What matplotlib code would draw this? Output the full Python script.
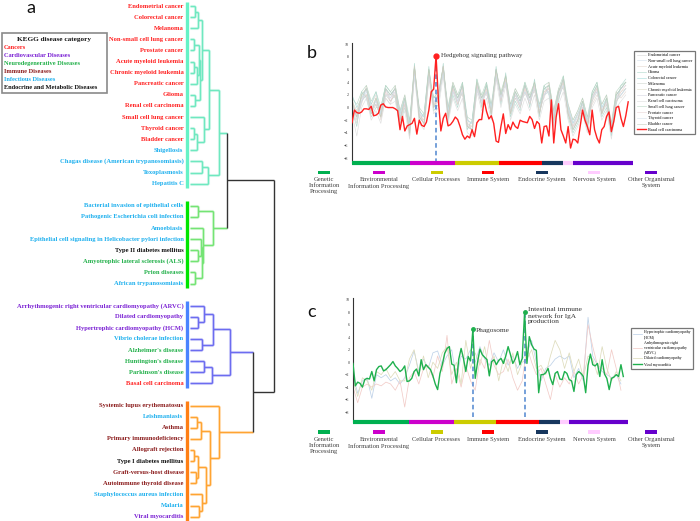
import numpy as np
import matplotlib
matplotlib.use('Agg')
from matplotlib import pyplot as plt
from matplotlib.patches import Rectangle

plt.rcParams['font.family'] = ['Liberation Serif', 'DejaVu Serif']

# ---------------- panel a: KEGG disease clustering ----------------
diseases = [
    'Endometrial cancer', 'Colorectal cancer', 'Melanoma', 'Non-small cell lung cancer',
    'Prostate cancer', 'Acute myeloid leukemia', 'Chronic myeloid leukemia', 'Pancreatic cancer',
    'Glioma', 'Renal cell carcinoma', 'Small cell lung cancer', 'Thyroid cancer', 'Bladder cancer',
    'Shigellosis', 'Chagas disease (American trypanosomiasis)', 'Toxoplasmosis', 'Hepatitis C',
    'Bacterial invasion of epithelial cells', 'Pathogenic Escherichia coli infection', 'Amoebiasis',
    'Epithelial cell signaling in Helicobacter pylori infection', 'Type II diabetes mellitus',
    'Amyotrophic lateral sclerosis (ALS)', 'Prion diseases', 'African trypanosomiasis',
    'Arrhythmogenic right ventricular cardiomyopathy (ARVC)', 'Dilated cardiomyopathy',
    'Hypertrophic cardiomyopathy (HCM)', 'Vibrio cholerae infection', "Alzheimer's disease",
    "Huntington's disease", "Parkinson's disease", 'Basal cell carcinoma',
    'Systemic lupus erythematosus', 'Leishmaniasis', 'Asthma', 'Primary immunodeficiency',
    'Allograft rejection', 'Type I diabetes mellitus', 'Graft-versus-host disease',
    'Autoimmune thyroid disease', 'Staphylococcus aureus infection', 'Malaria', 'Viral myocarditis',
]
disease_cat = (['C'] * 13 + ['I'] * 4
               + ['I', 'I', 'I', 'I', 'E', 'N', 'N', 'I']
               + ['V', 'V', 'V', 'I', 'N', 'N', 'N', 'C']
               + ['M', 'I', 'M', 'M', 'M', 'E', 'M', 'M', 'I', 'I', 'V'])
cat_keys = ['C', 'V', 'N', 'M', 'I', 'E']
cat_names = ['Cancers', 'Cardiovascular Diseases', 'Neurodegenerative Diseases',
             'Immune Diseases', 'Infectious Diseases', 'Endocrine and Metabolic Diseases']
cat_colors = ['#ff2222', '#7b22d4', '#22b04a', '#8b1c1c', '#1eb0ee', '#111111']

cluster_sizes = [17, 8, 8, 11]
cluster_bar_colors = ['#66f2c6', '#00e600', '#4a84ff', '#ff7f14']
cluster_line_colors = ['#6fe8c0', '#74e474', '#6c6cf0', '#ffa432']

# merge tree: (left, right, height)
tree = (
    ((((((0, 1, 5.0), 2, 7.7),
         ((((3, 4, 4.0), ((5, 6, 4.5), 7, 7.0), 9.0), (8, 9, 5.0), 10.5)), 11.7),
        (10, ((11, 12, 4.0), 13, 7.5), 14.3), 19.0),
       ((14, 15, 12.3), 16, 17.7), 29.0),
      ((17, 18, 8.3), (19, ((20, (21, 22, 8.3), 11.0), (23, 24, 5.0), 12.0), 13.3), 23.3),
      37.3),
    ((((25, (26, 27, 7.7), 14.3), (28, 29, 12.3), 22.7), ((30, 31, 14.3), 32, 22.3), 40.0),
     (33, (((34, 35, 6.7), 36, 11.0),
           (((37, 38, 4.5), (39, 40, 6.0), 8.0), (41, (42, 43, 9.0), 12.3), 15.7), 20.0), 29.3),
     63.3),
    84.3)

# ---------------- panels b, c: pathway profiles ----------------
path_groups = ['Genetic\nInformation\nProcessing', 'Environmental\nInformation Processing',
               'Cellular Processes', 'Immune System', 'Endocrine System', 'Nervous System',
               'Other Organismal\nSystem']
path_counts = [24, 19, 18, 18, 9, 4, 25]
path_colors = ['#00b050', '#cc00cc', '#cccc00', '#ff0000', '#17375e', '#ffccff', '#6600cc']

basal_cell = [
    -2.4, -0.4, -0.8, -0.9, -0.7, -0.2, -0.2, -0.3, 0.2, -1.3,
    -1.2, -0.9, 0.4, 0.6, 0.1, 0.0, 0.0, 0.0, -0.2, -0.5,
    -3.5, -1.4, -3.7, -2.9, -2.7, -2.5, -1.7, -4.2, -2.0, -2.8,
    -3.0, -2.3, -0.4, 2.5, 2.9, 8.2, 1.0, -3.7, -1.7, -0.9,
    -2.9, -2.7, -2.2, -1.5, -1.9, -3.0, -4.3, -5.0, -4.5, -4.8,
    -3.5, -4.6, -2.4, -1.9, -1.9, 1.2, -0.6, -1.8, -1.3, -2.5,
    -5.3, -5.5, -3.0, -1.0, -4.1, -2.7, -3.5, -2.3, -3.0, -3.3,
    -2.0, -2.2, -2.3, -2.4, -1.4, -1.9, -3.3, -2.2, -2.6, -5.6,
    -3.0, -2.9, -4.5, 1.2, -5.6, -1.5, 0.6, -3.5, -4.5, -5.6,
    -3.0, -6.4, -5.0, -5.1, -5.6, -3.0, -0.4, -2.0, -3.0, -4.3,
    -0.4, -3.5, -4.8, -5.6, -3.5, -3.0, -1.4, -0.7, -3.8, -2.2,
    0.0, 0.2, -1.7, -3.0, -1.3, 0.9]

# the 13 cancers of the first cluster (every second pathway)
cancer_names = ['Endometrial cancer', 'Non-small cell lung cancer', 'Acute myeloid leukemia',
                'Glioma', 'Colorectal cancer', 'Melanoma', 'Chronic myeloid leukemia',
                'Pancreatic cancer', 'Renal cell carcinoma', 'Small cell lung cancer',
                'Prostate cancer', 'Thyroid cancer', 'Bladder cancer']
endometrial = [1.0, -2.0, 2.0, 3.0, 0.0, 0.5, -1.5, 3.0, 1.0, 2.0, -2.0, 0.5, -4.0, 6.5, -1.5, -2.5, 5.0, 1.0, 1.0, 6.5,
               -1.5, 3.5, 0.5, 2.5, -3.0, -3.5, 4.0, 1.5, 2.5, -1.0, 6.0, 1.0, 5.0, 0.0, 2.5, 0.0, 3.5, 1.5, 3.0, -1.0,
               2.0, 3.5, -2.0, 2.5, 4.5, 0.0, -3.5, -2.0, 1.0, -3.0, 1.0, 3.5, -1.0, 1.5, -4.0, 2.0, 3.0, 4.0]
nsclc = [0.0, -0.5, 1.0, 2.0, -1.0, 1.5, -0.5, 2.0, 2.0, 3.0, -1.0, 1.5, -3.0, 5.5, -0.5, -1.5, 6.0, 0.0, 2.0, 5.5,
         -0.5, 2.5, 1.5, 3.5, -2.0, -2.5, 3.0, 0.5, 3.5, 0.0, 5.0, 2.0, 4.0, -1.0, 1.5, 1.0, 2.5, 0.5, 4.0, 0.0,
         3.0, 2.5, -1.0, 1.5, 3.5, -1.0, -2.5, -1.0, 0.0, -2.0, 2.0, 2.5, 0.0, 0.5, -3.0, 1.0, 2.0, 3.0]
aml = [1.5, -1.5, 0.5, 3.5, 0.5, 2.0, -2.0, 1.5, 0.5, 3.5, -0.5, 2.0, -4.5, 5.0, 0.0, -3.0, 4.5, 1.5, 2.5, 5.0,
       0.0, 4.0, 2.0, 2.0, -1.5, -4.0, 2.5, 2.0, 2.0, 0.5, 4.5, 2.5, 3.5, 0.5, 3.0, 1.5, 2.0, 2.0, 2.5, 0.5,
       1.5, 4.0, -0.5, 3.0, 3.0, 0.5, -2.0, -0.5, 1.5, -1.5, 0.5, 2.0, 0.5, 2.0, -2.5, 2.5, 1.5, 2.5]
glioma = [-0.5, -3.0, 2.5, 1.5, -1.5, 0.0, 0.0, 3.5, 2.5, 1.5, -2.5, 0.0, -3.0, 7.0, -2.0, -1.0, 6.5, -0.5, 0.5, 7.0,
          -2.0, 2.0, 0.0, 4.0, -3.5, -2.0, 4.5, 0.0, 4.0, -1.5, 6.5, 0.5, 5.5, -1.5, 1.0, -0.5, 4.0, 0.0, 4.5, -1.5,
          3.5, 2.0, -2.5, 1.0, 5.0, -1.5, -4.0, -2.5, -0.5, -3.5, 2.5, 4.0, -1.5, 0.0, -4.5, 0.5, 3.5, 4.5]
colorectal = [2.0, 0.0, 1.5, 3.0, 0.5, 2.5, -1.0, 3.0, 2.0, 3.0, -1.0, 1.5, -2.5, 5.5, -0.5, -1.5, 5.0, 1.5, 2.0, 5.5,
              -0.5, 3.5, 1.5, 3.5, -2.0, -2.5, 3.5, 1.5, 3.5, 0.0, 5.0, 2.0, 4.0, 0.0, 2.5, 1.0, 3.5, 1.5, 3.5, 0.0,
              3.0, 3.5, -1.0, 2.5, 4.0, 0.0, -2.5, -1.0, 1.0, -2.0, 2.0, 3.5, 0.0, 1.5, -3.0, 2.0, 3.0, 4.0]
melanoma = [0.0, -2.5, 1.0, 2.0, -1.0, 0.5, -1.5, 2.0, 1.0, 2.0, -2.0, 0.5, -4.5, 6.5, -1.5, -2.5, 6.0, 0.0, 1.0, 6.5,
            -1.5, 2.5, 0.5, 2.5, -3.0, -3.5, 3.0, 0.5, 2.5, -1.0, 6.0, 1.0, 4.5, -1.0, 1.5, 0.0, 2.5, 0.5, 3.0, -1.0,
            2.0, 2.5, -2.0, 1.5, 3.5, -1.0, -3.5, -2.0, 0.0, -3.0, 1.0, 2.5, -1.0, 0.5, -4.0, 1.0, 2.0, 3.0]
cml = [1.0, -0.5, 2.0, 2.0, 0.0, 1.5, -0.5, 2.0, 2.0, 2.0, -1.5, 1.0, -3.0, 6.5, -1.0, -2.0, 5.0, 0.5, 1.0, 6.0,
       -1.0, 3.0, 1.0, 2.5, -2.5, -3.0, 3.5, 1.0, 3.0, -0.5, 5.0, 1.5, 4.5, -0.5, 2.0, 0.5, 3.0, 1.0, 3.0, -0.5,
       2.5, 3.0, -1.5, 2.0, 4.0, -0.5, -3.0, -1.0, 0.5, -2.5, 1.5, 3.0, -0.5, 1.0, -3.5, 1.5, 2.5, 3.0]
pancreatic = [0.5, -1.5, 1.0, 3.0, -0.5, 1.0, -1.0, 3.0, 1.5, 3.0, -1.5, 1.0, -3.5, 5.5, -1.0, -2.5, 5.5, 0.5, 2.0, 6.5,
              -1.0, 3.0, 1.0, 3.5, -2.5, -3.5, 3.5, 1.0, 2.5, -0.5, 6.0, 1.5, 4.0, -0.5, 2.0, 0.5, 3.5, 1.0, 3.5, -0.5,
              2.0, 3.0, -1.5, 2.5, 4.5, -0.5, -3.0, -1.5, 0.5, -2.5, 1.5, 3.0, -0.5, 1.0, -3.5, 1.5, 3.0, 3.5]
renal = [-1.0, -4.5, 0.0, 1.5, -2.0, -0.5, -2.5, 1.5, 0.5, 1.0, -3.0, -0.5, -5.0, 5.0, -2.5, -3.5, 4.5, -1.0, 0.0, 5.0,
         -2.5, 1.5, -0.5, 1.5, -4.0, -4.5, 2.5, -0.5, 1.5, -2.0, 4.5, 0.0, 3.5, -2.0, 0.5, -1.0, 1.5, -0.5, 2.0, -2.0,
         1.0, 1.5, -3.0, 0.5, 2.5, -2.0, -4.5, -3.0, -1.0, -4.0, 0.0, 1.5, -2.0, -0.5, -5.0, 0.0, 1.0, 2.0]
small_cell = [1.5, 0.5, 2.5, 3.5, 1.0, 2.5, 0.0, 3.5, 2.5, 3.5, -0.5, 2.0, -2.0, 6.5, 0.0, -1.0, 6.0, 1.5, 2.5, 6.5,
              0.0, 4.0, 2.0, 4.0, -1.5, -2.0, 4.5, 2.0, 4.0, 0.5, 6.0, 2.5, 5.0, 0.5, 3.0, 1.5, 4.0, 2.0, 4.0, 0.5,
              3.5, 4.0, -0.5, 3.0, 5.0, 0.5, -2.0, -0.5, 1.5, -1.5, 2.5, 4.0, 0.5, 2.0, -2.5, 2.5, 3.5, 4.0]
prostate = [0.5, -1.0, 1.5, 2.0, -0.5, 0.5, -1.5, 2.5, 1.0, 2.5, -2.0, 0.5, -3.5, 6.5, -1.5, -2.0, 5.5, 0.0, 1.5, 6.5,
            -1.5, 3.0, 0.5, 3.0, -3.0, -3.0, 3.5, 0.5, 3.0, -1.0, 5.5, 1.0, 4.5, -1.0, 2.0, 0.0, 3.0, 0.5, 3.5, -1.0,
            2.5, 3.0, -2.0, 2.0, 4.0, -1.0, -3.0, -2.0, 0.0, -2.5, 1.5, 3.0, -1.0, 1.0, -4.0, 1.0, 2.5, 3.5]
thyroid = [0.0, -1.0, 1.0, 2.5, 0.0, 1.0, -1.0, 2.0, 1.5, 2.5, -1.0, 1.0, -3.0, 5.0, -1.0, -1.5, 5.0, 1.0, 1.5, 5.5,
           -0.5, 2.5, 1.0, 2.5, -2.0, -2.5, 3.0, 1.0, 2.5, 0.0, 5.0, 1.5, 4.0, 0.0, 2.0, 0.5, 2.5, 1.0, 3.0, 0.0,
           2.0, 2.5, -1.0, 2.0, 3.5, 0.0, -2.5, -1.0, 0.5, -2.0, 1.5, 2.5, 0.0, 1.0, -3.0, 1.5, 2.0, 3.0]
bladder = [1.0, -1.5, 2.0, 3.0, -1.0, 1.5, -1.5, 3.0, 2.0, 3.0, -2.0, 1.5, -4.0, 6.5, -1.5, -2.5, 6.0, 0.0, 2.0, 6.5,
           -1.5, 3.5, 1.5, 3.5, -3.0, -3.5, 4.0, 1.5, 3.5, -1.0, 6.0, 2.0, 5.0, -1.0, 2.5, 1.0, 3.5, 1.5, 4.0, -1.0,
           3.0, 3.5, -2.0, 2.5, 4.5, -1.0, -3.5, -2.0, 1.0, -3.0, 2.0, 3.5, -1.0, 1.5, -4.0, 2.0, 3.0, 4.0]
cancer_series = [endometrial, nsclc, aml, glioma, colorectal, melanoma, cml, pancreatic,
                 renal, small_cell, prostate, thyroid, bladder]
cancer_colors = ['#d4d4d4', '#d0dde9', '#e2d4cc', '#a8d4c8', '#9fd8d6', '#ccd2cc', '#ddd8c4',
                 '#d2d2e0', '#dadada', '#b4d4c0', '#e8d2d2', '#d2e0ec', '#c0ccb8']

viral_myocarditis = [
    -0.2, -3.8, -3.2, -3.4, -4.0, -2.8, -2.6, -2.7, -1.5, -3.0,
    -1.2, -0.7, -0.6, -1.4, -1.2, -0.8, -0.4, 0.1, -0.6, -1.0,
    -1.5, -1.2, -0.6, -3.1, -3.0, -2.6, -1.5, -1.1, -2.2, 0.4,
    -1.2, -0.4, -0.8, -1.2, -2.2, -3.5, -4.4, -1.8, -0.4, 1.4,
    2.2, 2.5, -0.3, -0.5, -3.3, 0.5, 2.2, 0.6, -1.5, 0.9,
    0.2, 5.3, -2.6, 0.0, 2.1, 1.2, 0.8, 0.4, -2.2, 0.1,
    0.4, -0.4, 0.3, 0.6, -0.2, 1.0, 2.5, 1.2, -0.2, 0.5,
    1.7, -0.4, 0.6, 8.0, -0.2, 4.1, 2.8, 2.1, 1.9, -4.9,
    -2.0, -2.0, -1.7, -1.0, -2.6, -3.6, -1.8, -1.5, -2.7, -2.8,
    -1.5, -1.8, -2.8, -3.0, -4.7, -2.0, -1.5, -1.8, -2.3, -4.9,
    -0.5, 1.3, -0.4, -0.6, -0.2, -2.3, 0.4, -1.9, -2.6, -4.4,
    -2.6, -2.4, -2.0, -2.3, -0.4, -2.3]
hcm = [-2.0, -5.0, -3.0, -2.5, -5.8, -2.0, -2.5, -2.0, -3.0, -2.5, -3.5, -2.5, -0.5, 1.8, -1.5, 0.5, -1.0, 1.5, 1.8, -0.5,
       1.0, 2.0, -2.5, 1.0, 0.5, 2.0, 0.0, 2.5, 0.5, -0.5, 1.5, 0.0, 2.0, -0.5, 1.0, -1.0, 0.5, 1.5, 3.5, 0.0,
       -3.0, -1.0, -0.5, 0.5, 1.0, 0.5, 1.0, -2.5, -1.0, -3.0, 7.2, 1.0, -0.5, -1.5, -2.0, -2.5, -2.0, -3.5]
arvc = [-4.0, -6.5, -4.0, -3.5, -4.0, -3.5, -3.8, -3.2, -3.5, -4.5, -3.0, -7.2, -2.5, -1.5, -3.5, -1.0, -0.5, -2.5, 1.0, -1.5,
        4.3, -3.5, -1.0, -4.0, -0.5, -3.0, -4.5, 0.5, -1.0, 3.5, -0.5, -2.0, -1.5, 0.5, -2.5, -4.5, -3.0, 2.5, 0.0, -2.0,
        -1.0, -3.5, -6.0, -2.0, -4.0, -2.5, -3.5, -1.5, -3.5, -2.0, 6.0, 2.5, -0.5, -1.0, -2.0, 2.0, -1.0, -4.5]
dilated = [-3.0, -5.5, -2.5, -3.0, -4.5, -1.5, -2.0, -1.0, -2.5, -1.5, -3.0, -3.0, 0.5, 2.0, -2.0, 1.0, -2.5, 0.0, -1.0, 1.5,
           2.5, -2.0, 0.0, -3.5, 3.5, -1.0, 1.5, -0.5, 2.5, -1.5, 1.0, -3.0, 0.5, -1.5, 1.5, -2.0, 0.0, 0.5, 2.0, -1.0,
           -0.5, -2.0, 1.0, 3.5, 2.0, -1.0, 1.5, -1.5, 0.5, -2.5, 1.0, 0.5, -2.0, 2.5, -1.0, -3.0, -1.5, -3.0]
cardio_names = ['Hypertrophic cardiomyopathy\n(HCM)',
                'Arrhythmogenic right\nventricular cardiomyopathy\n(ARVC)',
                'Dilated cardiomyopathy']
cardio_series = [hcm, arvc, dilated]
cardio_colors = ['#bfd2e8', '#f2ccc8', '#dedcbc']

# ---------------- figure ----------------
W, H = 700, 521
fig = plt.figure(figsize=(7, 5.21), dpi=100, facecolor='white')

# pixel overlay for panel letters, legends and keys
ov = fig.add_axes([0, 0, 1, 1])
ov.set_xlim(0, W)
ov.set_ylim(H, 0)
ov.axis('off')

# --- dendrogram ---
leaf_group = np.repeat(np.arange(4), cluster_sizes)
leaf_slot = np.arange(len(diseases)) + leaf_group
dax = fig.add_axes([190 / W, 0, 90 / W, 1])
dax.set_xlim(0, 90)
dax.set_ylim((H - 6) / 11.1, -6 / 11.1)
dax.axis('off')


def seg(xs, ys, g):
    if g is None:
        dax.plot(xs, ys, color='#333333', lw=1.0, solid_capstyle='butt', zorder=3)
    else:
        dax.plot(xs, ys, color=cluster_line_colors[g], lw=2.2, alpha=0.3,
                 solid_capstyle='butt', zorder=2)
        dax.plot(xs, ys, color=cluster_line_colors[g], lw=0.9, solid_capstyle='butt', zorder=3)


def draw(node):
    if isinstance(node, int):
        return leaf_slot[node], 0.0, leaf_group[node]
    left, right, h = node
    kids = [draw(left), draw(right)]
    g = kids[0][2] if kids[0][2] == kids[1][2] else None
    for y, hc, gc in kids:
        seg([hc, h], [y, y], gc)
    seg([h, h], [kids[0][0], kids[1][0]], g)
    return (kids[0][0] + kids[1][0]) / 2, h, g


draw(tree)

start = 0
for n, col in zip(cluster_sizes, cluster_bar_colors):
    s0 = leaf_slot[start]
    dax.plot([-2.5, -2.5], [s0 - 0.4, s0 + n - 1 + 0.4], color=col, lw=2.4,
             solid_capstyle='butt', clip_on=False)
    start += n

for name, cat, slot in zip(diseases, disease_cat, leaf_slot):
    dax.text(-6.5, slot, name, ha='right', va='center', fontsize=4.7, fontweight='bold',
             color=cat_colors[cat_keys.index(cat)], clip_on=False)

# legend box of panel a
ov.add_patch(Rectangle((1.5, 33), 105, 60, facecolor='white', edgecolor='#8a8a8a', lw=1.2))
ov.text(54, 40, 'KEGG disease category', ha='center', va='center', fontsize=5.2,
        fontweight='bold', color='#111111')
for k, (nm, col) in enumerate(zip(cat_names, cat_colors)):
    ov.text(4, 47.7 + 8 * k, nm, ha='left', va='center', fontsize=4.6, fontweight='bold', color=col)

# panel letters
for lab, x, y in (('a', 31, 8), ('b', 312, 53), ('c', 312, 312)):
    ov.text(x, y, lab, ha='center', va='center', fontsize=13, family='Lato', color='#111111')


def profile_axes(rect, ylo, yhi):
    ax = fig.add_axes(rect)
    ax.set_facecolor('none')
    ax.set_xlim(0, sum(path_counts))
    ax.set_ylim(ylo, yhi)
    for s in ('top', 'right', 'bottom'):
        ax.spines[s].set_visible(False)
    ax.spines['left'].set_color('#333333')
    ax.spines['left'].set_linewidth(0.8)
    ax.set_xticks([])
    ax.set_yticks(np.arange(-8, 11, 2))
    ax.tick_params(axis='y', length=0, labelsize=3, pad=2.5, labelcolor='#333333')
    s0 = 0
    for n, col in zip(path_counts, path_colors):
        ax.plot([s0, s0 + n], [ylo, ylo], color=col, lw=3, solid_capstyle='butt',
                clip_on=False, zorder=4)
        s0 += n
    return ax


def path_key(y_sw, y_txt):
    key_x = [324, 379, 436.5, 488, 541.5, 594, 651]
    for x, lab, col in zip(key_x, path_groups, path_colors):
        ov.add_patch(Rectangle((x - 6, y_sw - 1.8), 12, 3.6, facecolor=col, lw=0))
        ov.text(x, y_txt, lab, ha='center', va='top', fontsize=4.7, color='#404040',
                linespacing=1.25)


# --- panel b ---
idx = np.arange(len(basal_cell))
idx_even = np.arange(0, len(basal_cell), 2)
ax_b = profile_axes([352 / W, 1 - 162.6 / H, 281 / W, 119.6 / H], -8.7, 10.2)
for name, vals, col in zip(cancer_names, cancer_series, cancer_colors):
    ax_b.plot(idx_even, vals, color=col, lw=0.45, alpha=0.85, label=name)
ax_b.plot(idx, basal_cell, color='#ff2020', lw=1.0, label='Basal cell carcinoma', zorder=3)
peak = int(np.argmax(basal_cell))
ax_b.vlines(peak, -8.7, basal_cell[peak], colors='#4f86d0', linestyles=(0, (3, 2)), lw=1.1, zorder=2)
ax_b.plot(peak, basal_cell[peak], 'o', color='#ff2020', ms=3.5, zorder=5)
ax_b.annotate('Hedgehog signaling pathway', (peak, basal_cell[peak]), xytext=(3.5, 0),
              textcoords='offset points', va='center', fontsize=5, color='#333333')
leg = ax_b.legend(loc='upper left', bbox_to_anchor=(634 / W, 1 - 50.7 / H),
                  bbox_transform=fig.transFigure, fontsize=3, fancybox=False,
                  edgecolor='#777777', handlelength=2.2, handletextpad=0.6,
                  labelspacing=0.42, borderpad=0.6, borderaxespad=0, framealpha=1)
leg.get_frame().set_linewidth(0.9)
path_key(172.3, 177.2)

# --- panel c ---
ax_c = profile_axes([353 / W, 1 - 422 / H, 275 / W, 124 / H], -9.6, 10.3)
for name, vals, col in zip(cardio_names, cardio_series, cardio_colors):
    ax_c.plot(idx_even, vals, color=col, lw=0.55, label=name)
ax_c.plot(idx, viral_myocarditis, color='#1fb04e', lw=1.0, label='Viral myocarditis', zorder=3)
for p, label, off, va in ((51, 'Phagosome', (2, -1.3), 'center'),
                          (73, 'Intestinal immune\nnetwork for IgA\nproduction', (2.7, 3.5), 'top')):
    ax_c.vlines(p, -8.8, viral_myocarditis[p], colors='#4f86d0', linestyles=(0, (3, 2)), lw=1.1, zorder=2)
    ax_c.plot(p, viral_myocarditis[p], 'o', color='#1fb04e', ms=2.5, zorder=5)
    ax_c.annotate(label, (p, viral_myocarditis[p]), xytext=off, textcoords='offset points',
                  va=va, ha='left', fontsize=5.3, color='#333333', linespacing=1.1)
leg_c = ax_c.legend(loc='upper left', bbox_to_anchor=(631 / W, 1 - 327.7 / H),
                    bbox_transform=fig.transFigure, fontsize=2.8, fancybox=False,
                    edgecolor='#777777', handlelength=2.2, handletextpad=0.6,
                    labelspacing=0.6, borderpad=0.6, borderaxespad=0, framealpha=1)
leg_c.get_frame().set_linewidth(0.9)
path_key(431.7, 436.8)

fig.savefig('out.png', dpi=100)
